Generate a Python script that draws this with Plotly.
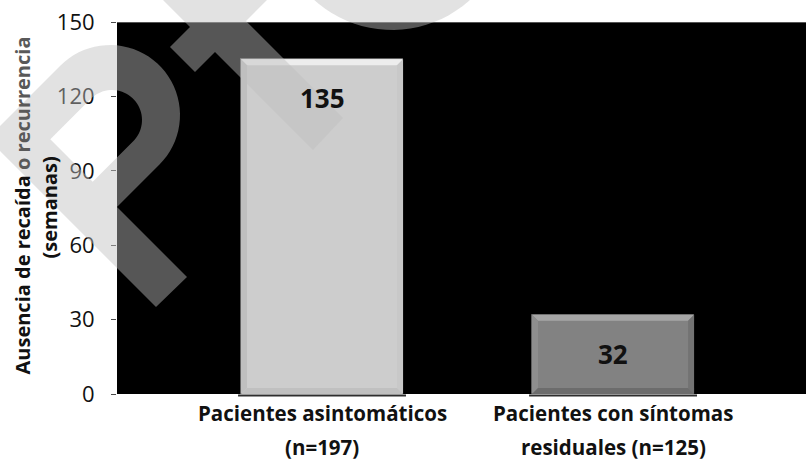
import numpy as np
import plotly.graph_objects as go

# --- datos -------------------------------------------------------------
etiqueta_linea1 = ["Pacientes asintomáticos", "Pacientes con síntomas"]
etiqueta_linea2 = ["(n=197)", "residuales (n=125)"]
semanas = [135, 32]
ticks_y = [0, 30, 60, 90, 120, 150]

# --- estilo ------------------------------------------------------------
color_barra = ["#cdcdcd", "#828282"]
bisel_sup = ["#ededed", "#a6a6a6"]
bisel_izq = ["#bfbfbf", "#8e8e8e"]
bisel_der = ["#c8c8c8", "#737373"]
bisel_inf = ["#c0c0c0", "#6c6c6c"]
FUENTE = "Open Sans"

W, H = 806, 461
ML, MR, MT, MB = 117, 0, 22, 67
PW, PH = W - ML - MR, H - MT - MB
X_RANGE = [-0.7045, 1.663]
Y_RANGE = [0, 150]
ANCHO = 0.557
x_pos = list(range(len(semanas)))

fig = go.Figure()
fig.add_trace(go.Bar(
    x=x_pos, y=semanas, width=ANCHO,
    marker=dict(color=color_barra, line=dict(color="#5e5e5e", width=1)),
    hoverinfo="skip", showlegend=False,
))

shapes = []
# bisel de cada barra, en coordenadas de datos
dx = 6 * (X_RANGE[1] - X_RANGE[0]) / PW
dy = 6 * (Y_RANGE[1] - Y_RANGE[0]) / PH


def poligono(pts):
    return "M " + " L ".join(f"{a:.5f},{b:.5f}" for a, b in pts) + " Z"


for i, v in zip(x_pos, semanas):
    x0, x1 = i - ANCHO / 2, i + ANCHO / 2
    caras = [
        ([(x0, v), (x1, v), (x1 - dx, v - dy), (x0 + dx, v - dy)], bisel_sup[i]),
        ([(x0, 0), (x0, v), (x0 + dx, v - dy), (x0 + dx, dy)], bisel_izq[i]),
        ([(x1, 0), (x1, v), (x1 - dx, v - dy), (x1 - dx, dy)], bisel_der[i]),
        ([(x0, 0), (x1, 0), (x1 - dx, dy), (x0 + dx, dy)], bisel_inf[i]),
    ]
    for pts, col in caras:
        shapes.append(dict(type="path", path=poligono(pts), xref="x", yref="y",
                           fillcolor=col, line=dict(width=0), layer="above"))
    # sombra bajo la base
    shapes.append(dict(type="line", xref="x", yref="paper", x0=x0 - 0.01, x1=x1 + 0.01,
                       y0=-0.004, y1=-0.004, line=dict(color="#2e2e2e", width=2),
                       layer="above"))

# línea superior del área de trazado
shapes.append(dict(type="line", xref="paper", yref="y", x0=0, x1=1, y0=150, y1=150,
                   line=dict(color="#a8a8a8", width=1), layer="above"))

# --- marca de agua (en píxeles de la página, convertidos a papel) -------
def px(x):
    return (x - ML) / PW


def py(y):
    return (H - MB - y) / PH


def ruta(pts):
    return "M " + " L ".join(f"{px(a):.5f},{py(b):.5f}" for a, b in pts) + " Z"


def arco(cx, cy, r, a0, a1, n=40):
    t = np.radians(np.linspace(a0, a1, n))
    return [(cx + r * np.cos(a), cy + r * np.sin(a)) for a in t]


# forma curva con hueco
exterior = [(156, 307), (187, 277), (117, 207)]
exterior += arco(110, 115, 70, 45, -135)
exterior += [(-12.5, 138.5)]
hueco = [(50.3, 139.3)]
hueco += arco(112, 120, 30, -135, 45)
hueco += [(92.7, 181.7)]

# aspa superior
aspa = [(123, -40), (185, -40), (221, -4), (257, -40), (307, -40), (246, 21),
        (343, 118), (313, 150), (215, 52), (195, 72), (170, 47), (190, 27)]

# disco superior
disco = arco(392, -86, 116, 0, 360, 90)

gris_marca = "rgba(190,190,190,0.45)"
shapes.append(dict(type="path", path=ruta(exterior) + " " + ruta(hueco),
                   xref="paper", yref="paper", fillcolor=gris_marca,
                   fillrule="evenodd", line=dict(width=0), layer="above"))
shapes.append(dict(type="path", path=ruta(aspa), xref="paper", yref="paper",
                   fillcolor=gris_marca, line=dict(width=0), layer="above"))
shapes.append(dict(type="path", path=ruta(disco), xref="paper", yref="paper",
                   fillcolor=gris_marca, line=dict(width=0), layer="above"))

# --- textos ------------------------------------------------------------
annotations = []
for i, v in zip(x_pos, semanas):
    annotations.append(dict(
        x=i, y=v, xref="x", yref="y", text=f"<b>{v}</b>", showarrow=False,
        yanchor="top", yshift=-19, font=dict(family=FUENTE, size=26, color="#111111")))
    annotations.append(dict(
        x=i, y=0, xref="x", yref="paper", text=f"<b>{etiqueta_linea1[i]}</b>",
        showarrow=False, yanchor="middle", yshift=-19,
        font=dict(family=FUENTE, size=20.5, color="#111111")))
    annotations.append(dict(
        x=i, y=0, xref="x", yref="paper", text=f"<b>{etiqueta_linea2[i]}</b>",
        showarrow=False, yanchor="middle", yshift=-53,
        font=dict(family=FUENTE, size=20.5, color="#111111")))

annotations.append(dict(
    x=0, y=0.5, xref="paper", yref="paper", xshift=-111, yshift=2, textangle=-90,
    text="<b>Ausencia de recaída <span style='color:#595959'>o recurrencia</span></b>",
    showarrow=False, font=dict(family=FUENTE, size=20, color="#111111")))
annotations.append(dict(
    x=0, y=0.5, xref="paper", yref="paper", xshift=-84, yshift=0, textangle=-90,
    text="<b>(semanas)</b>", showarrow=False,
    font=dict(family=FUENTE, size=20, color="#111111")))

fig.update_layout(
    width=W, height=H,
    margin=dict(l=ML, r=MR, t=MT, b=MB, pad=0),
    paper_bgcolor="white", plot_bgcolor="black",
    shapes=shapes, annotations=annotations,
    xaxis=dict(range=X_RANGE, showticklabels=False, showgrid=False, zeroline=False,
               showline=False, ticks="", fixedrange=True),
    yaxis=dict(range=Y_RANGE, tickvals=ticks_y, ticks="outside", ticklen=5,
               tickcolor="#4a4a4a", tickwidth=1, showgrid=False, zeroline=False,
               showline=False, ticklabelstandoff=12, fixedrange=True,
               tickfont=dict(family=FUENTE, size=22, color="#111111")),
    bargap=0,
)

fig.write_html("out.html")
